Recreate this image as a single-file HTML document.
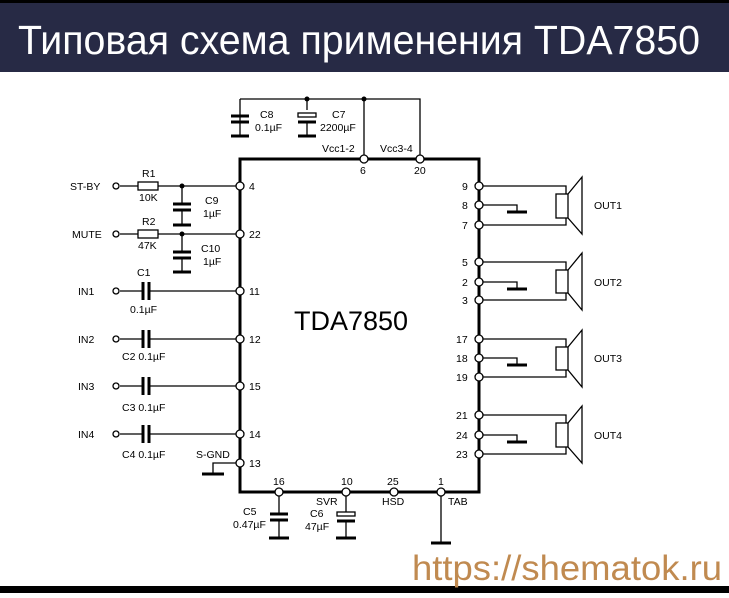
<!DOCTYPE html><html><head><style>body{margin:0;width:729px;height:593px;overflow:hidden;background:#fff}
svg text{font-family:"Liberation Sans",sans-serif}</style></head><body>
<svg width="729" height="593" xmlns="http://www.w3.org/2000/svg">
<rect x="0" y="0" width="729" height="72" fill="#272a45"/>
<rect x="0" y="0" width="729" height="3" fill="#000"/>
<text x="18" y="54" font-size="41" fill="#fff" textLength="682" lengthAdjust="spacingAndGlyphs">Типовая схема применения TDA7850</text>
<rect x="0" y="586" width="729" height="7" fill="#000"/>
<text x="412" y="580" font-size="35" fill="#c08a50" textLength="310" lengthAdjust="spacingAndGlyphs">https://shematok.ru</text>
<g stroke="#000" fill="none">
<rect x="240" y="159" width="239" height="333" stroke-width="3"/>
<path d="M240 99H420V159M364 99V159M307 99V110M240 99V137" stroke-width="1.3"/>
<path d="M231 116h18M231 122h18M231 136h18M298 122h18M298 136h18" stroke-width="3"/>
<rect x="298" y="113" width="18" height="4" stroke-width="1.3"/>
<path d="M307 123V136" stroke-width="1.3"/>
<path d="M120 186H138M158 186H240M120 234H138M158 234H240M182 186V203M182 209V225M182 234V251M182 257V272M120 291H142M148 291H240M120 339H142M148 339H240M120 386H142M148 386H240M120 434H142M148 434H240" stroke-width="1.3"/>
<rect x="138" y="182" width="20" height="8" stroke-width="1.3"/>
<rect x="138" y="230" width="20" height="8" stroke-width="1.3"/>
<path d="M173 204h18M173 210h18M173 225h18M173 252h18M173 258h18M173 272h18" stroke-width="3"/>
<path d="M143 282v18M149 282v18M143 330v18M149 330v18M143 377v18M149 377v18M143 425v18M149 425v18" stroke-width="3"/>
<path d="M240 463H213V473" stroke-width="1.3"/><path d="M202 474h22" stroke-width="3"/>
<path d="M279 492V513M279 520V537M346 492V512M346 521V537M441 492V543" stroke-width="1.3"/>
<path d="M270 514h18M270 520h18M269 538h20M337 521h18M336 538h20M431 543h20" stroke-width="3"/>
<rect x="337" y="512" width="18" height="4" stroke-width="1.3"/>
<g stroke-width="1.3">
<path d="M479 186H566V194M479 225H566V218M479 205H517V211"/>
<rect x="556" y="194" width="12" height="24"/><path d="M568 194L582 177V234L568 218"/>
<path d="M479 262H566V270M479 300H566V293M479 282H517V288"/>
<rect x="556" y="270" width="12" height="23"/><path d="M568 270L582 253V310L568 293"/>
<path d="M479 339H566V347M479 377H566V370M479 358H517V364"/>
<rect x="556" y="347" width="12" height="23"/><path d="M568 347L582 330V387L568 370"/>
<path d="M479 415H566V423M479 454H566V447M479 435H517V441"/>
<rect x="556" y="423" width="12" height="24"/><path d="M568 423L582 406V463L568 447"/>
</g>
<path d="M507 212h20M507 289h20M507 365h20M507 442h20" stroke-width="3"/>
</g>
<g fill="#000"><circle cx="307" cy="99" r="2.5"/><circle cx="364" cy="99" r="2.5"/><circle cx="182" cy="186" r="2.5"/><circle cx="182" cy="234" r="2.5"/></g>
<g fill="#fff" stroke="#000" stroke-width="1.3">
<circle cx="364" cy="159" r="4"/><circle cx="420" cy="159" r="4"/>
<circle cx="116" cy="186" r="3"/><circle cx="116" cy="234" r="3"/><circle cx="116" cy="291" r="3"/><circle cx="116" cy="339" r="3"/><circle cx="116" cy="386" r="3"/><circle cx="116" cy="434" r="3"/>
<circle cx="240" cy="186" r="4"/><circle cx="240" cy="234" r="4"/><circle cx="240" cy="291" r="4"/><circle cx="240" cy="339" r="4"/><circle cx="240" cy="386" r="4"/><circle cx="240" cy="434" r="4"/><circle cx="240" cy="463" r="4"/>
<circle cx="479" cy="186" r="4"/><circle cx="479" cy="205" r="4"/><circle cx="479" cy="225" r="4"/><circle cx="479" cy="262" r="4"/><circle cx="479" cy="282" r="4"/><circle cx="479" cy="300" r="4"/><circle cx="479" cy="339" r="4"/><circle cx="479" cy="358" r="4"/><circle cx="479" cy="377" r="4"/><circle cx="479" cy="415" r="4"/><circle cx="479" cy="435" r="4"/><circle cx="479" cy="454" r="4"/>
<circle cx="279" cy="492" r="4"/><circle cx="346" cy="492" r="4"/><circle cx="394" cy="492" r="4"/><circle cx="441" cy="492" r="4"/>
</g>
<g font-size="10.5" fill="#000">
<text x="260" y="118">C8</text><text x="255" y="131">0.1µF</text>
<text x="332" y="118">C7</text><text x="320" y="131">2200µF</text>
<text x="322" y="152">Vcc1-2</text><text x="380" y="152">Vcc3-4</text>
<text x="360" y="174">6</text><text x="414" y="174">20</text>
<text x="70" y="190">ST-BY</text><text x="142" y="177">R1</text><text x="139" y="201">10K</text>
<text x="205" y="204">C9</text><text x="203" y="217">1µF</text>
<text x="72" y="238">MUTE</text><text x="142" y="225">R2</text><text x="138" y="249">47K</text>
<text x="201" y="252">C10</text><text x="203" y="265">1µF</text>
<text x="78" y="295">IN1</text><text x="137" y="276">C1</text><text x="130" y="313">0.1µF</text>
<text x="78" y="343">IN2</text><text x="122" y="360">C2 0.1µF</text>
<text x="78" y="390">IN3</text><text x="122" y="411">C3 0.1µF</text>
<text x="78" y="438">IN4</text><text x="122" y="458">C4 0.1µF</text>
<text x="196" y="458">S-GND</text>
<text x="249" y="190">4</text><text x="249" y="238">22</text><text x="249" y="295">11</text><text x="249" y="343">12</text><text x="249" y="390">15</text><text x="249" y="438">14</text><text x="249" y="467">13</text>
<text x="462" y="190">9</text><text x="462" y="209">8</text><text x="462" y="229">7</text><text x="462" y="266">5</text><text x="462" y="286">2</text><text x="462" y="304">3</text>
<text x="456" y="343">17</text><text x="456" y="362">18</text><text x="456" y="381">19</text><text x="456" y="419">21</text><text x="456" y="439">24</text><text x="456" y="458">23</text>
<text x="594" y="209">OUT1</text><text x="594" y="286">OUT2</text><text x="594" y="362">OUT3</text><text x="594" y="439">OUT4</text>
<text x="273" y="485">16</text><text x="341" y="485">10</text><text x="387" y="485">25</text><text x="438" y="485">1</text>
<text x="316" y="505">SVR</text><text x="382" y="505">HSD</text><text x="448" y="505">TAB</text>
<text x="243" y="515">C5</text><text x="233" y="528">0.47µF</text>
<text x="310" y="517">C6</text><text x="305" y="530">47µF</text>
</g>
<text x="294" y="330" font-size="27" fill="#000">TDA7850</text>
</svg></body></html>
